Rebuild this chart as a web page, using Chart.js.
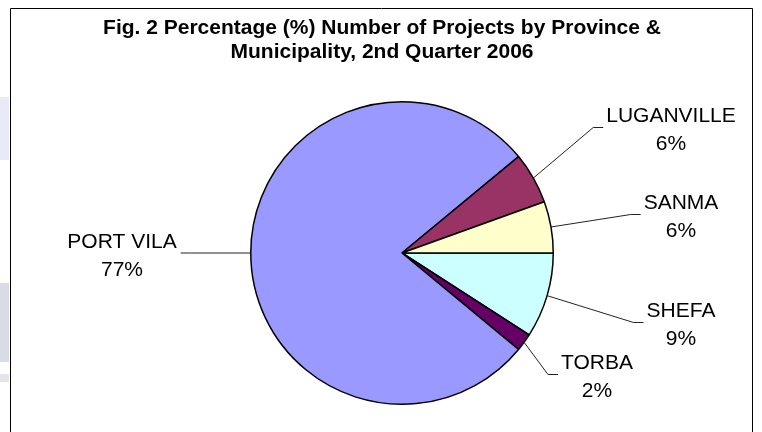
<!DOCTYPE html>
<html>
<head>
<meta charset="utf-8">
<script src="https://cdn.jsdelivr.net/npm/chart.js@4/dist/chart.umd.min.js"></script>
<style>
  html, body { margin: 0; padding: 0; background: #fff; }
  body { width: 762px; height: 432px; position: relative; overflow: hidden; }
  .patch { position: absolute; left: 0; width: 9px; }
  #wrap { position: absolute; left: 0; top: 0; width: 762px; height: 432px; }
</style>
</head>
<body>
<div class="patch" style="top:97px;height:63px;background:#e9e9f8;"></div>
<div class="patch" style="top:283px;height:79px;background:#d9dce7;"></div>
<div class="patch" style="top:374px;height:8px;background:#e3e5eb;"></div>
<div id="wrap"><canvas id="pieChart"></canvas></div>
<script>
/* data, clockwise from 3 o'clock */
const provinces = ["SHEFA", "TORBA", "PORT VILA", "LUGANVILLE", "SANMA"];
const shares = [9.1, 1.9, 78.0, 5.5, 5.5];
const pctLabels = ["9%", "2%", "77%", "6%", "6%"];
const sliceColors = ["#ccffff", "#660066", "#9999ff", "#993366", "#ffffcc"];

const titleLines = [
  "Fig. 2 Percentage (%) Number of Projects by Province &",
  "Municipality, 2nd Quarter 2006",
];

/* where each label sits: text centre x, first baseline y */
const labelSpots = [
  { x: 681, y: 317, side: "right" },
  { x: 597, y: 369, side: "right" },
  { x: 122, y: 248, side: "left" },
  { x: 671, y: 122, side: "right" },
  { x: 681, y: 209, side: "right" },
];

/* frame around the chart + title (title drawn here so it isn't squeezed by the padding) */
const framePlugin = {
  id: "frame",
  beforeDraw(chart) {
    const ctx = chart.ctx;
    ctx.save();
    ctx.strokeStyle = "#000";
    ctx.lineWidth = 1;
    ctx.beginPath();
    ctx.moveTo(10.5, 440);
    ctx.lineTo(10.5, 8.5);
    ctx.lineTo(752.5, 8.5);
    ctx.lineTo(752.5, 440);
    ctx.stroke();

    ctx.fillStyle = "#000";
    ctx.font = "bold 21px 'Liberation Sans', Arial, sans-serif";
    ctx.textAlign = "center";
    ctx.textBaseline = "alphabetic";
    titleLines.forEach((line, i) => {
      ctx.fillText(line, 382, 34 + i * 24);
    });
    ctx.restore();
  },
};

/* leader lines + labels */
const labelPlugin = {
  id: "pieLabels",
  afterDatasetsDraw(chart) {
    const ctx = chart.ctx;
    const arcs = chart.getDatasetMeta(0).data;
    ctx.save();
    ctx.font = "21px 'Liberation Sans', Arial, sans-serif";
    ctx.fillStyle = "#000";
    ctx.textAlign = "center";
    ctx.textBaseline = "alphabetic";
    arcs.forEach((arc, i) => {
      const spot = labelSpots[i];
      const mid = (arc.startAngle + arc.endAngle) / 2;
      const ex = arc.x + Math.cos(mid) * arc.outerRadius;
      const ey = arc.y + Math.sin(mid) * arc.outerRadius;
      const w = ctx.measureText(provinces[i]).width;
      const ly = spot.y + 5.5;
      let endX, elbowX;
      if (spot.side === "right") {
        endX = spot.x - w / 2 - 3;
        elbowX = endX - 10;
      } else {
        endX = spot.x + w / 2 + 4;
        elbowX = endX + 10;
      }
      ctx.strokeStyle = "#222";
      ctx.lineWidth = 1;
      ctx.beginPath();
      ctx.moveTo(ex, ey);
      ctx.lineTo(elbowX, spot.side === "left" ? ey : ly);
      ctx.lineTo(endX, spot.side === "left" ? ey : ly);
      ctx.stroke();
      ctx.fillText(provinces[i], spot.x, spot.y);
      ctx.fillText(pctLabels[i], spot.x, spot.y + 27.5);
    });
    ctx.restore();
  },
};

new Chart(document.getElementById("pieChart"), {
  type: "pie",
  data: {
    labels: provinces,
    datasets: [
      {
        data: shares,
        backgroundColor: sliceColors,
        borderColor: "#000",
        borderWidth: 1.5,
      },
    ],
  },
  options: {
    responsive: true,
    maintainAspectRatio: false,
    animation: false,
    rotation: 90,
    layout: { padding: { left: 250, right: 208, top: 101, bottom: 27 } },
    plugins: {
      legend: { display: false },
      tooltip: { enabled: false },
      title: { display: false },
    },
  },
  plugins: [framePlugin, labelPlugin],
});
</script>
</body>
</html>
